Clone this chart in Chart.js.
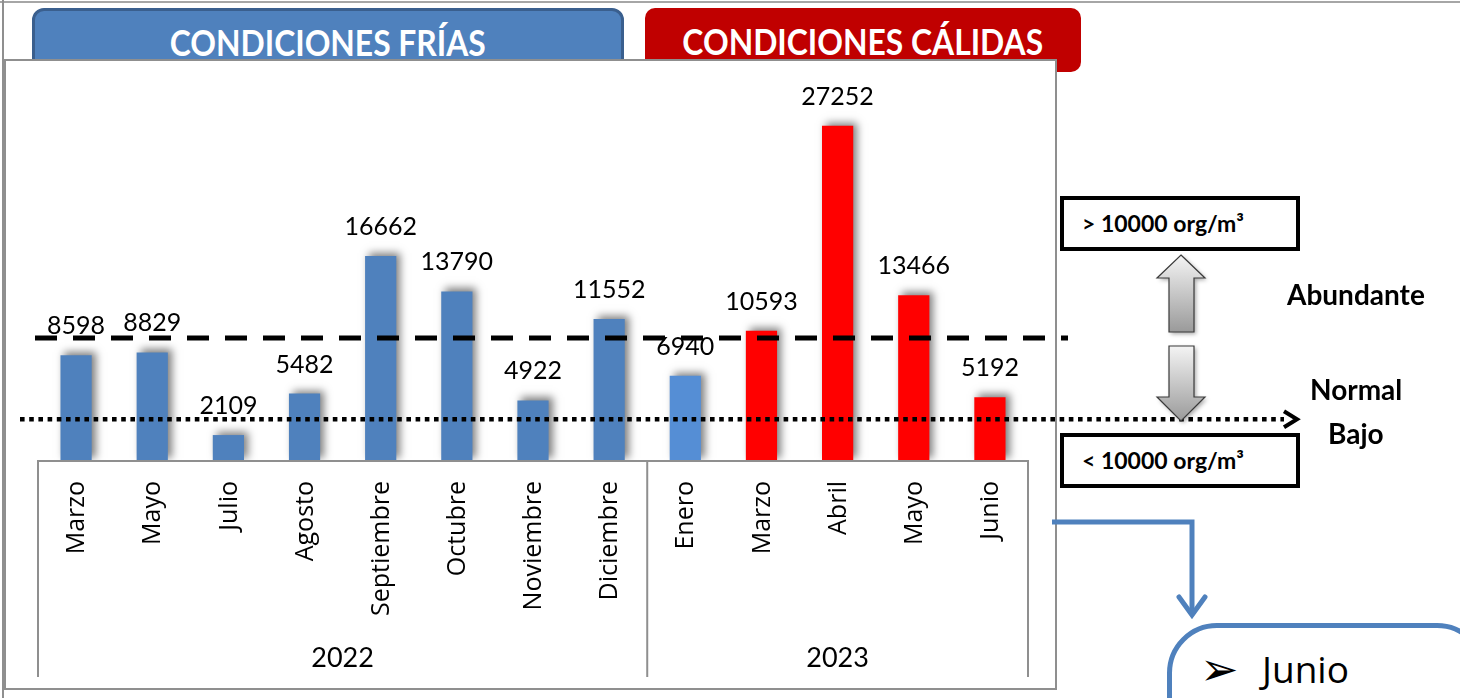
<!DOCTYPE html>
<html>
<head>
<meta charset="utf-8">
<script src="https://cdn.jsdelivr.net/npm/chart.js"></script>
<style>
    body { margin: 0; width: 1460px; height: 698px; overflow: hidden; background: #fff; position: relative; font-family: Lato, sans-serif; }
    .abs { position: absolute; }
    #topline { left: 0; top: 1px; width: 1460px; height: 2px; background: #a6a6a6; }
    #leftline { left: 2px; top: 0; width: 2px; height: 698px; background: #8f8f8f; }
    .head { color: #fff; font-weight: bold; font-size: 37px; text-align: center; box-sizing: border-box; }
    .head span { display: inline-block; transform: scaleX(0.86); }
    #fria { left: 32px; top: 8px; width: 592px; height: 80px; background: #4F81BD; border: 3px solid #3A5F8E; border-radius: 12px; line-height: 62px; z-index: 1; }
    #calida { left: 645px; top: 8px; width: 436px; height: 64px; background: #C00000; border-radius: 10px; line-height: 66px; z-index: 1; }
    #frame { left: 4px; top: 59px; width: 1053px; height: 631px; box-sizing: border-box; border: 2px solid #8f8f8f; background: #fff; z-index: 2; }
    #c { position: absolute; left: 0; top: 0; z-index: 3; }
    .box { border: 4px solid #000; box-sizing: border-box; width: 240px; height: 55px; font-weight: bold; font-size: 23px; line-height: 47px; padding-left: 18px; z-index: 4; background: #fff; }
    .lab { font-weight: bold; font-size: 28px; z-index: 4; line-height: 1; }
    #junio { left: 1167px; top: 623px; width: 320px; height: 160px; box-sizing: border-box; border: 5px solid #4F81BD; border-radius: 50px; z-index: 4; background: #fff; }
    #junio span { position: absolute; top: 22px; font-size: 37px; font-family: "Open Sans", sans-serif; line-height: 1; }
</style>
</head>
<body>
<div class="abs" id="topline"></div>
<div class="abs" id="leftline"></div>
<div class="abs head" id="fria"><span>CONDICIONES FRÍAS</span></div>
<div class="abs head" id="calida"><span>CONDICIONES CÁLIDAS</span></div>
<div class="abs" id="frame"></div>
<canvas id="c" width="1460" height="698"></canvas>
<div class="abs box" style="left:1060px; top:196px;">&gt; 10000 org/m³</div>
<div class="abs box" style="left:1060px; top:433px;">&lt; 10000 org/m³</div>
<div class="abs lab" style="left:1287px; top:280px;">Abundante</div>
<div class="abs lab" style="left:1310px; top:375px;">Normal</div>
<div class="abs lab" style="left:1328px; top:419px;">Bajo</div>
<div class="abs" id="junio"><span style="left:28px; font-family:'DejaVu Sans'; font-size:46px; top:18px;">➢</span><span style="left:90px;">Junio</span></div>

<script>
// muestreos
var months = ['Marzo', 'Mayo', 'Julio', 'Agosto', 'Septiembre', 'Octubre', 'Noviembre', 'Diciembre',
              'Enero', 'Marzo', 'Abril', 'Mayo', 'Junio']
var years  = [2022, 2022, 2022, 2022, 2022, 2022, 2022, 2022, 2023, 2023, 2023, 2023, 2023]
var values = [8598, 8829, 2109, 5482, 16662, 13790, 4922, 11552, 6940, 10593, 27252, 13466, 5192]
var abundantLimit = 10000
var lowLimit = 3400

function barColor(i) {
    if (years[i] == 2022) return '#4F81BD'
    if (months[i] == 'Enero') return '#558ED5'
    return '#FF0000'
}

var shadowPlugin = {
    id: 'barShadow',
    beforeDatasetsDraw: function(chart) {
        var ctx = chart.ctx
        ctx.save()
        ctx.shadowColor = 'rgba(0,0,0,0.5)'
        ctx.shadowBlur = 8
        ctx.shadowOffsetX = 4
        ctx.shadowOffsetY = -3
    },
    afterDatasetsDraw: function(chart) {
        chart.ctx.restore()
    }
}

function blockArrow(ctx, pts, top, bottom) {
    ctx.save()
    var g = ctx.createLinearGradient(0, top, 0, bottom)
    g.addColorStop(0, '#f4f4f4')
    g.addColorStop(1, '#9a9a9a')
    ctx.shadowColor = 'rgba(0,0,0,0.35)'
    ctx.shadowBlur = 4
    ctx.shadowOffsetX = 2
    ctx.shadowOffsetY = 2
    ctx.beginPath()
    ctx.moveTo(pts[0][0], pts[0][1])
    for (var i = 1; i < pts.length; i++) ctx.lineTo(pts[i][0], pts[i][1])
    ctx.closePath()
    ctx.fillStyle = g
    ctx.fill()
    ctx.shadowColor = 'transparent'
    ctx.strokeStyle = '#3a3a3a'
    ctx.lineWidth = 1.2
    ctx.stroke()
    ctx.restore()
}

var decorPlugin = {
    id: 'decor',
    afterDraw: function(chart) {
        var ctx = chart.ctx
        var xs = chart.scales.x
        var ys = chart.scales.y
        var area = chart.chartArea
        var step = (area.right - area.left) / months.length
        ctx.save()

        // category axis box
        var boxBottom = 677
        ctx.strokeStyle = '#8f8f8f'
        ctx.lineWidth = 2
        ctx.beginPath()
        ctx.moveTo(area.left, boxBottom)
        ctx.lineTo(area.left, area.bottom)
        ctx.lineTo(area.right, area.bottom)
        ctx.lineTo(area.right, boxBottom)
        var firstNew = years.indexOf(2023)
        var divX = xs.getPixelForValue(firstNew) - step / 2
        ctx.moveTo(divX, area.bottom)
        ctx.lineTo(divX, boxBottom)
        ctx.stroke()

        // month labels
        ctx.fillStyle = '#000'
        ctx.font = '25px "Open Sans"'
        ctx.textAlign = 'right'
        ctx.textBaseline = 'middle'
        for (var i = 0; i < months.length; i++) {
            ctx.save()
            ctx.translate(xs.getPixelForValue(i) + 1, area.bottom + 20)
            ctx.rotate(-Math.PI / 2)
            ctx.fillText(months[i], 0, 0)
            ctx.restore()
        }

        // year labels
        ctx.font = '27px Lato'
        ctx.textAlign = 'center'
        ctx.textBaseline = 'alphabetic'
        ctx.fillText('2022', (area.left + divX) / 2, 667)
        ctx.fillText('2023', (divX + area.right) / 2, 667)

        // threshold lines
        ctx.strokeStyle = '#000'
        var yA = ys.getPixelForValue(abundantLimit)
        ctx.lineWidth = 5
        ctx.setLineDash([22, 16])
        ctx.beginPath()
        ctx.moveTo(35, yA)
        ctx.lineTo(1068, yA)
        ctx.stroke()

        var yB = ys.getPixelForValue(lowLimit)
        ctx.lineWidth = 4.5
        ctx.setLineDash([4.6, 4.6])
        ctx.beginPath()
        ctx.moveTo(20, yB)
        ctx.lineTo(1284, yB)
        ctx.stroke()
        ctx.setLineDash([])
        ctx.lineWidth = 4
        ctx.beginPath()
        ctx.moveTo(1284, yB - 8)
        ctx.lineTo(1297, yB)
        ctx.lineTo(1284, yB + 8)
        ctx.stroke()

        // value labels
        ctx.font = '25px Lato'
        ctx.textAlign = 'center'
        ctx.textBaseline = 'alphabetic'
        var meta = chart.getDatasetMeta(0)
        for (var i = 0; i < values.length; i++) {
            var bar = meta.data[i]
            ctx.fillText(values[i], bar.x, bar.y - 21)
        }

        // block arrows
        blockArrow(ctx, [[1181, 255], [1205, 278], [1194, 278], [1194, 332], [1169, 332], [1169, 278], [1157, 278]], 255, 332)
        blockArrow(ctx, [[1169, 346], [1194, 346], [1194, 397], [1205, 397], [1181, 421], [1157, 397], [1169, 397]], 346, 421)

        // connector to the note
        ctx.strokeStyle = '#4F81BD'
        ctx.lineWidth = 5
        ctx.lineJoin = 'miter'
        ctx.beginPath()
        ctx.moveTo(1052, 522)
        ctx.lineTo(1192, 522)
        ctx.lineTo(1192, 614)
        ctx.stroke()
        ctx.lineCap = 'round'
        ctx.beginPath()
        ctx.moveTo(1179, 597)
        ctx.lineTo(1192, 615)
        ctx.lineTo(1205, 597)
        ctx.stroke()

        ctx.restore()
    }
}

var ctx = document.getElementById('c').getContext('2d')
new Chart(ctx, {
    type: 'bar',
    data: {
        labels: months,
        datasets: [{
            data: values,
            backgroundColor: values.map(function(v, i) { return barColor(i) }),
            borderWidth: 0,
            barPercentage: 0.41,
            categoryPercentage: 1
        }]
    },
    options: {
        responsive: false,
        devicePixelRatio: 1,
        animation: false,
        layout: { padding: { left: 38, right: 432, top: 92, bottom: 237 } },
        plugins: { legend: { display: false }, tooltip: { enabled: false } },
        scales: {
            x: { display: false },
            y: { display: false, min: 0, max: 30000 }
        }
    },
    plugins: [shadowPlugin, decorPlugin]
})
</script>
</body>
</html>
